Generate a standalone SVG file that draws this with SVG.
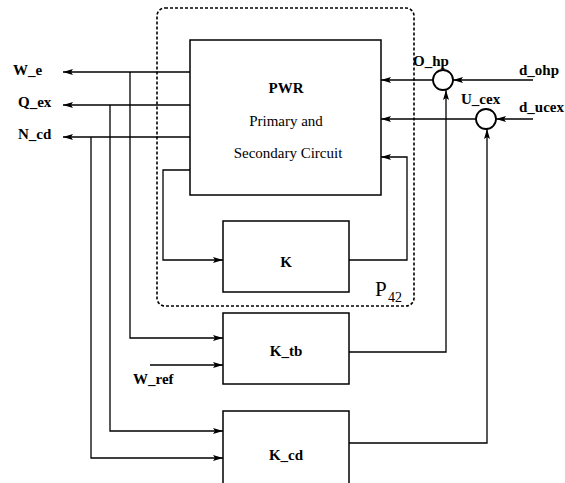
<svg xmlns="http://www.w3.org/2000/svg" width="565" height="483" viewBox="0 0 565 483">
<defs>
<style>
.blk{fill:#fff;stroke:#000;stroke-width:1.5}
.ln{fill:none;stroke:#000;stroke-width:1.3}
text{font-family:'Liberation Serif','DejaVu Serif',serif;font-size:15px;fill:#000}
.c{text-anchor:middle}
.b{font-weight:bold}
</style>
<marker id="ah" viewBox="0 0 10 6" refX="10" refY="3" markerWidth="10" markerHeight="6" markerUnits="userSpaceOnUse" orient="auto">
<path d="M0,0 L10,3 L0,6 L2,3 Z" fill="#000"/>
</marker>
</defs>
<rect width="565" height="483" fill="#fff"/>
<g id="p42">
<rect x="157" y="8" width="257" height="298" rx="8" fill="none" stroke="#000" stroke-width="1.6" stroke-dasharray="3,2"/>
<text x="375" y="296" style="font-size:21px">P</text><text x="388" y="302" style="font-size:14px">42</text>
</g>
<g id="pwr">
<rect class="blk" x="190" y="40" width="191" height="155"/>
<text class="c b" x="286" y="93">PWR</text>
<text class="c" x="286" y="126">Primary and</text>
<text class="c" x="288" y="158">Secondary Circuit</text>
</g>
<g id="k">
<rect class="blk" x="223" y="221" width="126" height="71"/>
<text class="c b" x="286" y="267">K</text>
</g>
<g id="ktb">
<rect class="blk" x="223" y="313" width="126" height="71"/>
<text class="c b" x="286" y="356">K_tb</text>
</g>
<g id="kcd">
<rect class="blk" x="223" y="411" width="126" height="90"/>
<text class="c b" x="286" y="460">K_cd</text>
</g>
<g id="sum_ohp">
<circle cx="443" cy="80" r="10" fill="#fff" stroke="#000" stroke-width="1.8"/>
<text class="b" x="413" y="66">O_hp</text>
</g>
<g id="sum_ucex">
<circle cx="486" cy="119" r="10" fill="#fff" stroke="#000" stroke-width="1.8"/>
<text class="b" x="461" y="104">U_cex</text>
</g>
<g id="labels">
<text class="b" x="13" y="75">W_e</text>
<text class="b" x="18" y="107">Q_ex</text>
<text class="b" x="18" y="139">N_cd</text>
<text class="b" x="133" y="384">W_ref</text>
<text class="b" x="519" y="75">d_ohp</text>
<text class="b" x="519" y="112">d_ucex</text>
</g>
<g id="connectors">
<path class="ln" d="M190,72 H63" marker-end="url(#ah)"/>
<path class="ln" d="M190,105 H63" marker-end="url(#ah)"/>
<path class="ln" d="M190,137 H63" marker-end="url(#ah)"/>
<path class="ln" d="M130,72 V338 H223" marker-end="url(#ah)"/>
<path class="ln" d="M110,105 V431 H223" marker-end="url(#ah)"/>
<path class="ln" d="M91,137 V458 H223" marker-end="url(#ah)"/>
<path class="ln" d="M150,365 H223" marker-end="url(#ah)"/>
<path class="ln" d="M190,170 H163 V260 H223" marker-end="url(#ah)"/>
<path class="ln" d="M349,260 H407 V157 H381" marker-end="url(#ah)"/>
<path class="ln" d="M433,80 H381" marker-end="url(#ah)"/>
<path class="ln" d="M533,80 H453" marker-end="url(#ah)"/>
<path class="ln" d="M476,119 H381" marker-end="url(#ah)"/>
<path class="ln" d="M533,119 H496" marker-end="url(#ah)"/>
<path class="ln" d="M349,352 H446 V90" marker-end="url(#ah)"/>
<path class="ln" d="M349,443 H487 V129" marker-end="url(#ah)"/>
</g>
</svg>
